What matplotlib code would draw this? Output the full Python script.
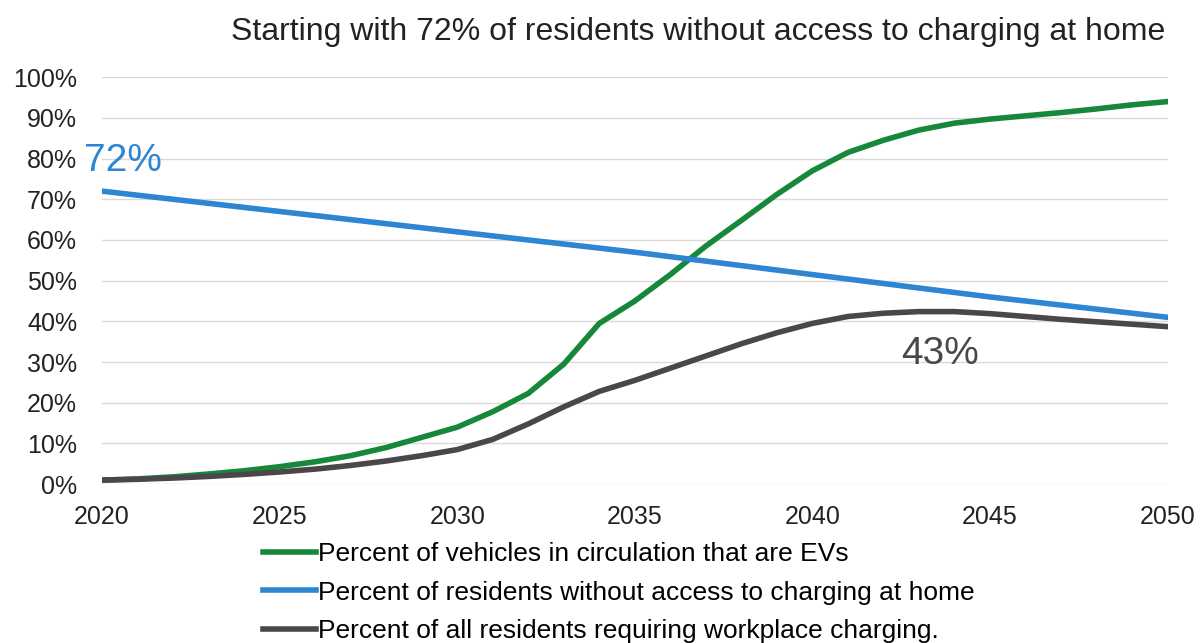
import matplotlib.pyplot as plt
from matplotlib.ticker import PercentFormatter

plt.rcParams['font.family'] = ['Liberation Sans', 'DejaVu Sans']

# data
years = list(range(2020, 2051))
ev_share = [1.0, 1.3, 1.8, 2.5, 3.3, 4.3, 5.5, 7.0, 9.0, 11.5, 14.0, 17.8, 22.3, 29.5,
            39.5, 45.0, 51.5, 58.5, 64.8, 71.2, 77.0, 81.5, 84.5, 87.0, 88.7, 89.7,
            90.5, 91.3, 92.2, 93.2, 94.0]
no_home_years = [2020, 2025, 2030, 2035, 2040, 2045, 2050]
no_home = [72.0, 67.0, 62.0, 57.0, 51.5, 46.0, 41.0]
workplace = [1.0, 1.2, 1.5, 1.9, 2.4, 3.0, 3.7, 4.6, 5.7, 7.0, 8.5, 11.0, 14.8, 19.0,
             22.8, 25.5, 28.5, 31.5, 34.5, 37.2, 39.5, 41.2, 42.0, 42.4, 42.4, 41.9,
             41.2, 40.5, 39.9, 39.3, 38.7]

green = '#17883a'
blue = '#2c86d2'
grey = '#4b4649'

fig = plt.figure(figsize=(12, 6.43), dpi=100)
ax = fig.add_axes([0.085, 0.247, 0.888, 0.633])

ax.plot(years, ev_share, color=green, lw=4, label='Percent of vehicles in circulation that are EVs')
ax.plot(no_home_years, no_home, color=blue, lw=4, label='Percent of residents without access to charging at home')
ax.plot(years, workplace, color=grey, lw=4, label='Percent of all residents requiring workplace charging.')

ax.set_xlim(2020, 2050)
ax.set_ylim(0, 100)
ax.set_xticks(range(2020, 2051, 5))
ax.set_yticks(range(0, 101, 10))
ax.yaxis.set_major_formatter(PercentFormatter(decimals=0))
ax.tick_params(length=0, labelsize=18, colors='#222222')
ax.tick_params(axis='y', pad=18)
ax.tick_params(axis='x', pad=15)
ax.grid(axis='y', color='#dadada', lw=1)
ax.set_axisbelow(True)
for s in ax.spines.values():
    s.set_visible(False)

ax.text(2019.5, 79.5, '72%', color=blue, fontsize=28, ha='left', va='center')
ax.text(2043.6, 31.9, '43%', color=grey, fontsize=28, ha='center', va='center')

fig.text(0.582, 0.95, 'Starting with 72% of residents without access to charging at home',
         fontsize=23, ha='center', va='center', color='#222222')

fig.legend(loc='upper left', bbox_to_anchor=(0.219, 0.157), frameon=False,
           fontsize=19, handlelength=2.0, handletextpad=0.1, labelspacing=0.55,
           borderpad=0, borderaxespad=0)

fig.savefig('out.png', dpi=100)
